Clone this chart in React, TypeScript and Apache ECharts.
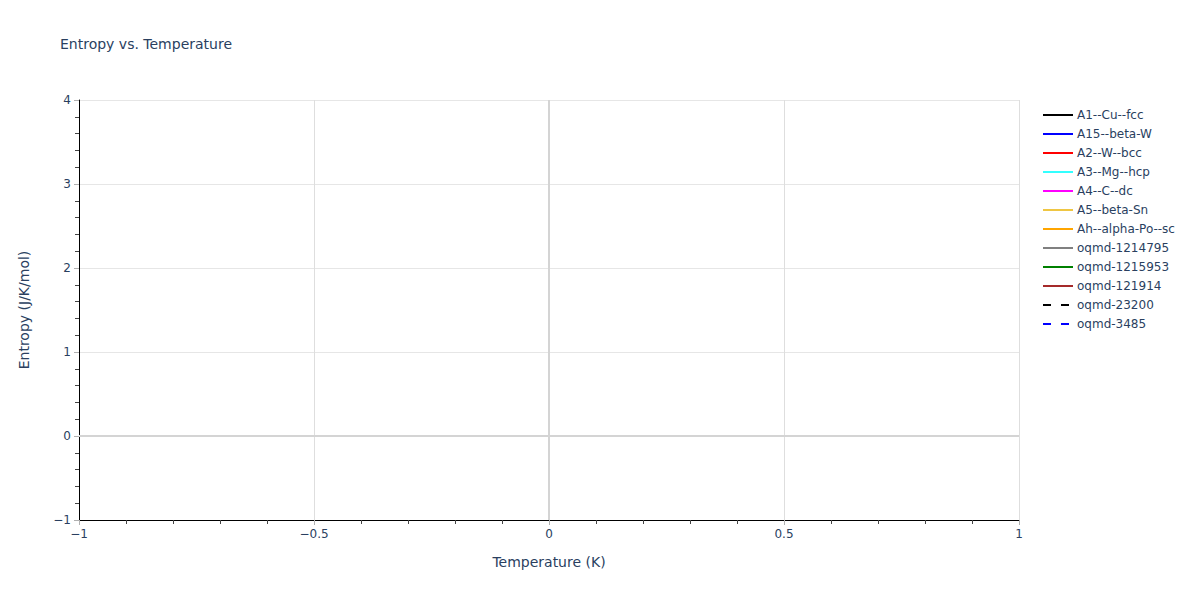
import { useEffect, useRef } from 'react';
import * as echarts from 'echarts';

// names, colours and dash style of each legend entry
const seriesNames = [
  'A1--Cu--fcc',
  'A15--beta-W',
  'A2--W--bcc',
  'A3--Mg--hcp',
  'A4--C--dc',
  'A5--beta-Sn',
  'Ah--alpha-Po--sc',
  'oqmd-1214795',
  'oqmd-1215953',
  'oqmd-121914',
  'oqmd-23200',
  'oqmd-3485',
];
const seriesColors = [
  '#000000', '#0000ff', '#ff0000', '#33ffff', '#ff00ff', '#efc643',
  '#ffa500', '#808080', '#008000', '#a52a2a', '#000000', '#0000ff',
];
const seriesDashed = [false, false, false, false, false, false, false, false, false, false, true, true];
// every series is empty in the reference
const seriesValues: [number, number][][] = seriesNames.map(() => []);

const xRange = [-1, 1];
const yRange = [-1, 4];

const FONT = 'verdana, "DejaVu Sans", sans-serif';
const TEXT = '#2a3f5f';

const fmt = (v: number) => (v < 0 ? '\u2212' + Math.abs(v) : String(v));

function App() {
  const chartRef = useRef<HTMLDivElement>(null);

  useEffect(() => {
    document.body.style.margin = '0';
    if (!chartRef.current) return;
    const chart = echarts.init(chartRef.current, undefined, { renderer: 'svg' });

    const option: echarts.EChartsOption = {
      animation: false,
      textStyle: { fontFamily: FONT },
      title: {
        text: 'Entropy vs. Temperature',
        left: 60,
        top: 37,
        padding: 0,
        textStyle: { fontFamily: FONT, fontSize: 14, fontWeight: 'normal', color: TEXT },
      },
      legend: {
        orient: 'vertical',
        left: 1042,
        top: 109,
        padding: 0,
        itemWidth: 30,
        itemHeight: 12,
        itemGap: 7,
        itemStyle: { opacity: 0 },
        lineStyle: { width: 2 },
        textStyle: { fontFamily: FONT, fontSize: 12, color: TEXT, padding: [0, 0, 0, -1] },
        data: seriesNames,
      },
      grid: { left: 79, right: 181, top: 100, bottom: 80, containLabel: false },
      xAxis: {
        type: 'value',
        min: xRange[0],
        max: xRange[1],
        interval: 0.5,
        name: 'Temperature (K)',
        nameLocation: 'middle',
        nameGap: 35,
        nameTextStyle: { fontFamily: FONT, fontSize: 14, color: TEXT },
        axisLine: { show: true, onZero: false, lineStyle: { color: '#000', width: 1 } },
        axisTick: { show: true, length: 5, lineStyle: { color: '#b0b0b0' } },
        minorTick: { show: true, splitNumber: 5, length: 4, lineStyle: { color: '#444' } },
        axisLabel: { formatter: fmt, fontSize: 12, color: TEXT, margin: 8, fontFamily: FONT },
        splitLine: { show: true, lineStyle: { color: '#dedede', width: 1 } },
      },
      yAxis: {
        type: 'value',
        min: yRange[0],
        max: yRange[1],
        interval: 1,
        name: 'Entropy (J/K/mol)',
        nameLocation: 'middle',
        nameGap: 48,
        nameTextStyle: { fontFamily: FONT, fontSize: 14, color: TEXT },
        axisLine: { show: true, onZero: false, lineStyle: { color: '#000', width: 1 } },
        axisTick: { show: true, length: 5, lineStyle: { color: '#b0b0b0' } },
        minorTick: { show: true, splitNumber: 5, length: 4, lineStyle: { color: '#444' } },
        axisLabel: { formatter: fmt, fontSize: 12, color: TEXT, margin: 8, fontFamily: FONT },
        splitLine: { show: true, lineStyle: { color: '#e6e6e6', width: 1 } },
      },
      series: seriesNames.map((name, i) => ({
        name,
        type: 'line',
        data: seriesValues[i],
        showSymbol: false,
        symbol: 'none',
        lineStyle: { color: seriesColors[i], width: 2, type: seriesDashed[i] ? [8, 10] : 'solid' },
        itemStyle: { color: seriesColors[i] },
        ...(i === 0
          ? {
              markLine: {
                silent: true,
                symbol: ['none', 'none'],
                label: { show: false },
                lineStyle: { color: '#d4d4d4', width: 2, type: 'solid' },
                data: [{ xAxis: 0 }, { yAxis: 0 }],
              },
            }
          : {}),
      })),
    };

    chart.setOption(option);
    return () => {
      chart.dispose();
    };
  }, []);

  return <div ref={chartRef} style={{ width: '1200px', height: '600px' }} />;
}

export default App;
